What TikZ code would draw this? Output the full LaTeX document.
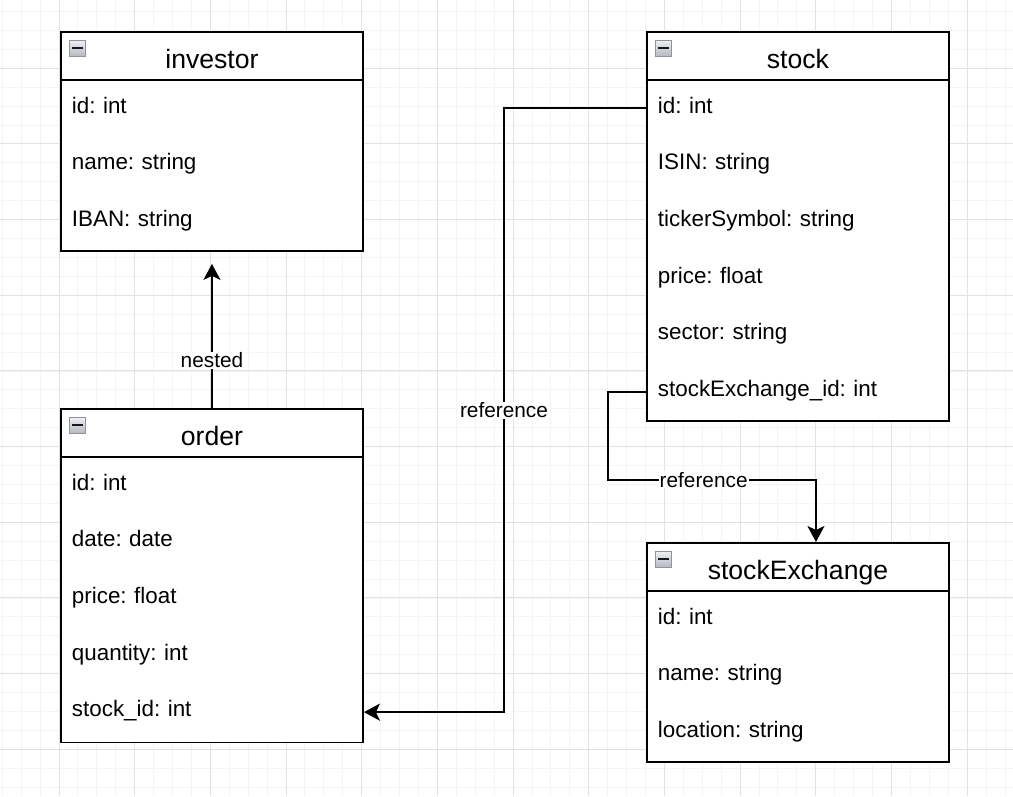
\documentclass[tikz,border=0pt]{standalone}
\usepackage{fontspec}
\setmainfont{Liberation Sans}
\usetikzlibrary{positioning,arrows.meta}

\definecolor{minorgrid}{HTML}{F4F4F4}
\definecolor{majorgrid}{HTML}{E2E2E2}
\definecolor{toggleborder}{HTML}{8E939C}
\definecolor{toggletop}{HTML}{F0F1F3}
\definecolor{togglebottom}{HTML}{B3B7BF}

\tikzset{
	tbox/.style={draw, line width=1.9pt, fill=white, minimum width=302pt, inner sep=0pt, anchor=north west},
	tabletitle/.style={font=\fontsize{26.6pt}{30pt}\selectfont, text height=25pt, text depth=0pt, inner sep=0pt},
	field/.style={font=\fontsize{22.4pt}{27pt}\selectfont, text width=279pt, align=left, text height=16pt, text depth=6.7pt, inner sep=0pt},
	toggle/.style={draw=toggleborder, line width=1pt, top color=toggletop, bottom color=togglebottom, minimum size=16.5pt, inner sep=0pt, anchor=north west,
		path picture={\draw[line width=2.4pt, black!90] ([xshift=3pt]path picture bounding box.west) -- ([xshift=-3pt]path picture bounding box.east);}},
	conn/.style={line width=1.9pt, -{Stealth[length=16pt, width=17pt, inset=4pt]}},
	connlabel/.style={fill=white, font=\fontsize{20.8pt}{24pt}\selectfont, inner sep=1pt}
}

\begin{document}
\frenchspacing
\begin{tikzpicture}[x=1pt, y=-1pt, on grid, node distance=56.7pt]
	\fill[white] (0,0) rectangle (1013,796);
	\useasboundingbox (0,0) rectangle (1013,796);
	\foreach \i in {0,...,53}
		\draw[minorgrid, line width=1pt] ({2.24+18.92*\i},0) -- ({2.24+18.92*\i},796);
	\foreach \j in {0,...,42}
		\draw[minorgrid, line width=1pt] (0,{-7.38+18.92*\j}) -- (1013,{-7.38+18.92*\j});
	\foreach \k in {0,...,13}
		\draw[majorgrid, line width=1pt] ({-16.67+75.67*\k},0) -- ({-16.67+75.67*\k},796);
	\foreach \k in {0,...,10}
		\draw[majorgrid, line width=1pt] (0,{-7.37+75.67*\k}) -- (1013,{-7.37+75.67*\k});

	\node[tbox, minimum height=219pt] (investor) at (60,31) {};
	\draw[line width=1.9pt] ([yshift=-49pt]investor.north west) -- ([yshift=-49pt]investor.north east);
	\node[toggle] (investorToggle) at ([shift={(8.5pt,-8.5pt)}]investor.north west) {};
	\node[tabletitle] (investorTitle) at ([yshift=-24.5pt]investor.north) {investor};
	\node[field] (investorId) at ([shift={(-0.5pt,-77.35pt)}]investor.north) {id: int};
	\node[field, below=of investorId] (investorName) {name: string};
	\node[field, below=of investorName] (investorIban) {IBAN: string};

	\node[tbox, minimum height=333.5pt] (order) at (60,408) {};
	\draw[line width=1.9pt] ([yshift=-49pt]order.north west) -- ([yshift=-49pt]order.north east);
	\node[toggle] (orderToggle) at ([shift={(8.5pt,-8.5pt)}]order.north west) {};
	\node[tabletitle] (orderTitle) at ([yshift=-24.5pt]order.north) {order};
	\node[field] (orderId) at ([shift={(-0.5pt,-77.35pt)}]order.north) {id: int};
	\node[field, below=of orderId] (orderDate) {date: date};
	\node[field, below=of orderDate] (orderPrice) {price: float};
	\node[field, below=of orderPrice] (orderQuantity) {quantity: int};
	\node[field, below=of orderQuantity] (orderStockId) {stock\_id: int};

	\node[tbox, minimum height=389.2pt] (stock) at (646,31) {};
	\draw[line width=1.9pt] ([yshift=-49pt]stock.north west) -- ([yshift=-49pt]stock.north east);
	\node[toggle] (stockToggle) at ([shift={(8.5pt,-8.5pt)}]stock.north west) {};
	\node[tabletitle] (stockTitle) at ([yshift=-24.5pt]stock.north) {stock};
	\node[field] (stockId) at ([shift={(-0.5pt,-77.35pt)}]stock.north) {id: int};
	\node[field, below=of stockId] (stockIsin) {ISIN: string};
	\node[field, below=of stockIsin] (stockTicker) {tickerSymbol: string};
	\node[field, below=of stockTicker] (stockPrice) {price: float};
	\node[field, below=of stockPrice] (stockSector) {sector: string};
	\node[field, below=of stockSector] (stockExchangeId) {stockExchange\_id: int};

	\node[tbox, minimum height=219.1pt] (stockExchange) at (646,542) {};
	\draw[line width=1.9pt] ([yshift=-49pt]stockExchange.north west) -- ([yshift=-49pt]stockExchange.north east);
	\node[toggle] (stockExchangeToggle) at ([shift={(8.5pt,-8.5pt)}]stockExchange.north west) {};
	\node[tabletitle] (stockExchangeTitle) at ([yshift=-24.5pt]stockExchange.north) {stockExchange};
	\node[field] (exchangeId) at ([shift={(-0.5pt,-77.35pt)}]stockExchange.north) {id: int};
	\node[field, below=of exchangeId] (exchangeName) {name: string};
	\node[field, below=of exchangeName] (exchangeLocation) {location: string};

	\draw[conn] (order.north) -- node[connlabel, pos=0.33] {nested} ([yshift=-12pt]investor.south);
	\draw[conn] (stockId -| stock.west) -- ++(-142,0) |- node[connlabel, pos=0.25] {reference} (orderStockId -| order.east);
	\draw[conn] (stockExchangeId -| stock.west) -- ++(-38,0) -- ++(0,88) -| node[connlabel, pos=0.23] {reference} ([xshift=18pt]stockExchange.north);

\end{tikzpicture}
\end{document}
